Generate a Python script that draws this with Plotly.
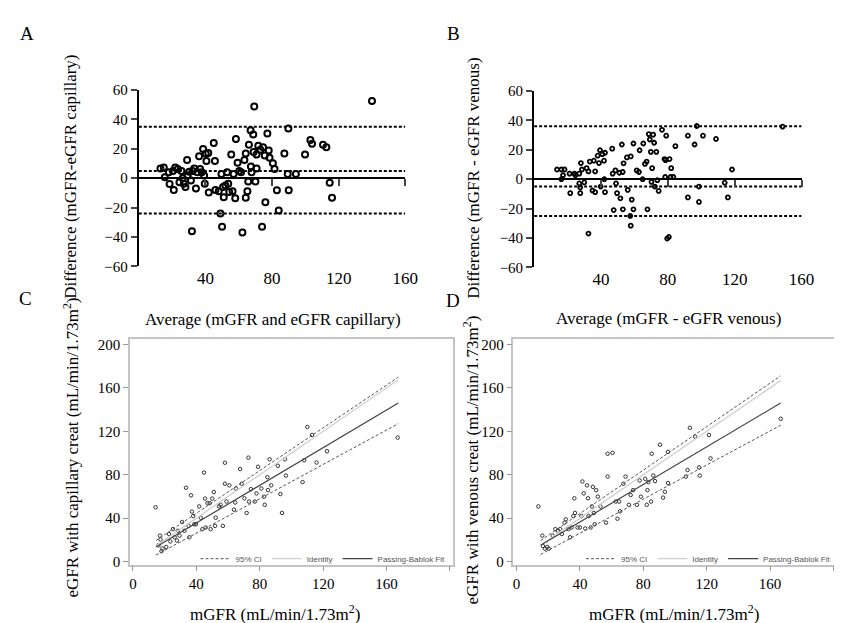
import plotly.graph_objects as go

# ---- data ----
# A: Bland-Altman, capillary
a_avg = [13, 15, 15.6, 18, 18.5, 20.5, 21, 21.9, 23.4, 24.4, 25.6, 26.4, 27, 28, 29, 29.3, 30.3,
         31.3, 31.9, 32.3, 33.3, 34.3, 35.2, 36.2, 36.8, 37.8, 38.6, 39.2, 39.6, 40.2, 40.6, 41.7,
         42, 45, 45.7, 46, 48, 49, 49.6, 50, 50.6, 51, 52, 53, 53.7, 54.3, 55.5, 56.3, 56.9, 57.9,
         58.3, 59.3, 60.3, 61.4, 62.2, 63.4, 64.2, 64.2, 65.2, 65.7, 66.1, 67.1, 67.3, 67.7, 68.7,
         68.9, 69.3, 70, 70.7, 70.7, 71.7, 73, 74, 74.6, 75.6, 76, 77.2, 78, 78.5, 80.5, 81.5, 82.9,
         84, 87.4, 89.8, 89.4, 90, 94.3, 99.8, 103, 104, 110.6, 112.6, 114.6, 116, 140]
a_diff = [6.6, 7.3, 0.7, 4, -4, 4.9, -8, 7.3, 6.2, -2.7, 4.9, 0, -3.8, -6, 12.4, 1.8, 4.4,
          -1.5, -36, 5, 6.6, -7, 4, 15, 6.2, 4, 19.9, 1.8, -3.8, 16.6, 11.7, 17.2,
          -9.7, 23.9, 11.7, -8, -8.8, -24, 2.9, -33, -6, -13, -4.9, 4, -3.8, -9.3, 16.1, -8.8, 2.9, -13.7,
          26.7, 10.6, 5, 4, -37, 12.4, 16.8, -13.3, -8.8, -2.2, 22.8, 32.7, 8, 4, 29.8,
          17.9, 48.8, -2.2, 16.1, 6.6, 22.1, 19.4, -33, 21, 15.5, -16.4, 30.5, 18.8, 13.9, 10.2, 6.2, -8.2,
          -22, 16.8, 33.8, 2.9, -8.2, 2.9, 16.1, 26, 23.4, 22.8, 21, -3.1, -13.3, 52.6]
a_loa = [35, 5, -24]

# B: Bland-Altman, venous
b_avg = [13.7, 16.3, 17.3, 16.3, 18.2, 21.2, 21.6, 24.1, 24.7, 27, 28, 28.6, 27, 27.6, 27.6, 30,
         31.4, 32.5, 32.5, 33.3, 34.9, 35.7, 36.5, 36.5, 38, 38.8, 39.4, 39.8, 40.8, 41.8, 42.4, 42,
         42.4, 46.7, 47, 47.6, 48.6, 49, 49.6, 51, 51.6, 52.5, 53, 53.1, 53.5, 55.5, 56, 57.5, 57.8,
         57.8, 58.4, 59.4, 59.4, 61.4, 62.7, 63.1, 64.9, 65.3, 66.3, 67.3, 67.8, 68.6, 69.2, 69.8,
         70.2, 70.6, 71.2, 71.8, 72.2, 73.1, 73.7, 74.5, 76.5, 78, 78.4, 78.6, 79, 79.6, 80.6, 81,
         81.6, 82, 83.3, 84.5, 92, 92, 96, 97.3, 98.6, 98.6, 101, 108.8, 114, 115.9, 118.4, 148.6]
b_diff = [6.6, 6.6, 2.7, 0, 6.6, 3.8, -9.5, 3.8, 2.7, 3.8, 11, 6.6, -2.9, -5.7, -9.5, -2.2,
          7.5, 5.3, -37, 12, -7.7, 12.6, 5.3, -8.8, 16, 11, 19.7, -5, 17, 12.6, 18, 0,
          -8.8, 20.8, 3.8, -21, 6, -2.9, -9.5, 4.4, -13, 23.6, 4.9, -20.5, 10.8, 14.8, -7.3, -25, -31.6,
          15.5, -13.9, 24.3, -20.5, 6, 4.9, 19.7, 0, 24.3, 10.4, 12, -20.5, 30.7, 27, 18.6,
          -1.8, 7.5, 30.3, 24.8, -5, 18.6, -0.7, -8, 33.6, 13.7, 1.5, 13, 29.6, -40.4, -39.3, 13.7,
          1.5, 7.5, 1.5, 22.5, 29.6, -12.4, 23.6, 36.2, -5, -15.5, 29.6, 27.4, -2.4, -12.4, 6.6, 35.8]
b_loa = [36, -5, -25]
loa_x = [0, 160]

# C: Passing-Bablok, capillary
c_mgfr = [14.3, 17, 17.4, 16.1, 18.6, 18, 21, 22.7, 23.6, 25.2, 26.3, 27.7, 28.3, 29.4, 31, 32.5,
          33.5, 35.1, 35.6, 36.6, 37.2, 38, 38.7, 39.7, 41.8, 42.8, 43.8, 44.8, 45.5, 45.9, 47, 48.4,
          49, 50, 51, 51.8, 52.2, 54.3, 55.3, 56.7, 58, 58, 59, 60.8, 63.7, 64.5, 64.9, 67.6, 68.6,
          70.3, 71.7, 72.8, 73.2, 74.4, 76.9, 77.9, 78.9, 81, 82.7, 83.1, 84.8, 85.2, 86.2, 87.2,
          91.4, 93, 94, 95.9, 96.5, 107, 108, 110, 113, 115.8, 122.4, 167]
c_egfr = [50, 23.9, 20.3, 15, 12, 9.6, 13.5, 25.4, 18.5, 29.9, 22.4, 19.4, 28.4, 23.9, 36.5, 28.4,
          68, 32.9, 22.4, 61, 46, 41.9, 34.4, 34.4, 50.8, 40.4, 29.9, 82, 58, 31.4, 53.8, 53.8,
          29.9, 58, 64, 32.9, 40.4, 50.8, 52.3, 32.9, 91, 71.7, 55.3, 70.2, 47.8, 54.4, 67.3, 85.2, 71.7,
          58.3, 44.8, 95.7, 55.3, 66.7, 55.3, 62.8, 87.3, 67.3, 59.8, 52.3, 77.7, 65.8, 94.2, 70.2,
          88.2, 62.2, 44.8, 94.2, 79.2, 73.2, 93.3, 124, 116.6, 91.2, 101.6, 114.2]
c_fit_x = [14.5, 167.4]
c_fit_y = [13.5, 146]
c_ciu_y = [19.4, 169.8]
c_cil_y = [6, 127]
c_id = [14.5, 167.4]

# D: Passing-Bablok, venous
d_mgfr = [13.8, 16.3, 16.7, 17.9, 19.4, 20.4, 22.9, 24.5, 26.2, 27.6, 28.6, 30.3, 31.1, 32.8, 33.8,
          34.8, 35.9, 36.5, 36.9, 38.5, 40, 41, 41.6, 42.4, 43.4, 44.5, 45.1, 45.5, 46.8, 47.6, 48.2,
          48.8, 49.3, 50.3, 51.3, 53, 56.5, 57.5, 57.5, 60.6, 62.6, 63.7, 64.7, 65.3, 67.4, 68.8,
          70.9, 72, 73.6, 76, 77.7, 78.5, 81.2, 82.2, 82.6, 83.2, 84.9, 85.3, 86.3, 87.4, 90.5, 92.5,
          93.6, 95.6, 95.6, 106.9, 107.9, 109.4, 112.7, 115.2, 115.6, 121.4, 122.4, 166.7]
d_egfr = [50.8, 23.9, 14.3, 12, 13.5, 12, 23.9, 29.9, 28.4, 29.9, 25.4, 35.9, 38.9, 29.9, 22.4,
          31.4, 41.9, 58.3, 44.8, 31.4, 31.4, 41.9, 73.8, 62.8, 30.5, 70.2, 58.3, 41.9, 31.4, 50.8, 68.8,
          44.8, 34.4, 65.8, 59.8, 50.8, 35.9, 99.3, 78.3, 100.1, 55.3, 39.5, 55.3, 46.3, 71.7, 78.3,
          52.3, 61.3, 65.8, 52.3, 74.7, 59.8, 76.2, 52.3, 65.8, 73.2, 55.3, 99.3, 79.2, 74.1, 107.6, 58.9,
          64.3, 101, 72.3, 78.3, 84.3, 123.2, 115.1, 86.7, 79.2, 116.6, 95, 131.5]
d_fit_x = [15.2, 166.7]
d_fit_y = [15, 146]
d_ciu_y = [19.4, 171]
d_cil_y = [6.6, 125.6]
d_id = [15.2, 166.7]

W, H = 842, 623
SERIF = "Liberation Serif"
SANS = "Liberation Sans"


def px(x):
    return x / W


def py(y):
    return 1 - y / H


fig = go.Figure()

# ---- A and B: Bland-Altman ----
for avg, diff, loa, xa, ya, xz, msize, mwidth in [
    (a_avg, a_diff, a_loa, "x", "y", "x5", 6, 2),
    (b_avg, b_diff, b_loa, "x2", "y2", "x6", 4, 1.8),
]:
    for v in loa:
        fig.add_trace(go.Scatter(x=loa_x, y=[v, v], mode="lines", xaxis=xz, yaxis=ya,
                                 line=dict(color="black", width=2, dash="3px,2px"),
                                 showlegend=False, hoverinfo="skip"))
    fig.add_trace(go.Scatter(x=avg, y=diff, mode="markers", xaxis=xa, yaxis=ya,
                             marker=dict(symbol="circle-open", size=msize, color="black",
                                         line=dict(width=mwidth)),
                             showlegend=False))

# ---- C and D: Passing-Bablok ----
for mg, eg, fx, fy, cu, cl, ide, xa, ya, lg in [
    (c_mgfr, c_egfr, c_fit_x, c_fit_y, c_ciu_y, c_cil_y, c_id, "x3", "y3", "legend"),
    (d_mgfr, d_egfr, d_fit_x, d_fit_y, d_ciu_y, d_cil_y, d_id, "x4", "y4", "legend2"),
]:
    fig.add_trace(go.Scatter(x=mg, y=eg, mode="markers", xaxis=xa, yaxis=ya,
                             marker=dict(symbol="circle-open", size=3.5, color="#333",
                                         line=dict(width=1)),
                             showlegend=False))
    fig.add_trace(go.Scatter(x=fx, y=cu, mode="lines", xaxis=xa, yaxis=ya, name="95% CI",
                             legend=lg, legendgroup=lg + "ci",
                             line=dict(color="#555", width=1, dash="3px,2px")))
    fig.add_trace(go.Scatter(x=fx, y=cl, mode="lines", xaxis=xa, yaxis=ya, name="95% CI",
                             legend=lg, legendgroup=lg + "ci", showlegend=False,
                             line=dict(color="#555", width=1, dash="3px,2px")))
    fig.add_trace(go.Scatter(x=ide, y=ide, mode="lines", xaxis=xa, yaxis=ya, name="Identity",
                             legend=lg, line=dict(color="#cfcfcf", width=1.3)))
    fig.add_trace(go.Scatter(x=fx, y=fy, mode="lines", xaxis=xa, yaxis=ya,
                             name="Passing-Bablok Fit", legend=lg,
                             line=dict(color="#444", width=1.2)))


def tf(size):
    return dict(family=SERIF, size=size, color="black")


dom_a = dict(x=[px(132), px(403)], y=[py(257), py(76)])
dom_b = dict(x=[px(534), px(806)], y=[py(258), py(77)])
dom_c = dict(x=[px(123), px(452)], y=[py(563), py(332)])
dom_d = dict(x=[px(513), px(842)], y=[py(563), py(332)])

ba_x = dict(range=[0, 160], tickvals=[40, 80, 120, 160], showline=False, ticks="",
            showgrid=False, zeroline=False, tickfont=tf(17))
ba_y = dict(range=[-60, 60], tickvals=[-60, -40, -20, 0, 20, 40, 60], showline=True,
            linewidth=2, linecolor="black", ticks="outside", ticklen=6, tickwidth=2,
            showgrid=False, zeroline=False, tickfont=tf(15))
ba_zero = dict(range=[0, 160], tickvals=[40, 80, 120, 160], showline=True, linewidth=2,
               linecolor="black", ticks="outside", ticklen=7, tickwidth=2,
               showticklabels=False, showgrid=False, zeroline=False, anchor="free")

pb_common = dict(showline=True, mirror=True, linecolor="#c4c4c4", linewidth=1.5,
                 ticks="outside", ticklen=5, tickcolor="#999", showgrid=False,
                 zeroline=False, tickfont=tf(15))
pb_x = dict(range=[-1.9, 202.2], tickvals=[0, 40, 80, 120, 160],
            minor=dict(tickvals=[200], ticks="outside", ticklen=5, tickcolor="#999",
                       showgrid=False), **pb_common)
pb_y = dict(range=[-2.7, 204.5], tickvals=[0, 40, 80, 120, 160, 200], **pb_common)

legend_style = dict(orientation="h", y=py(557), yanchor="middle", xanchor="right",
                    bgcolor="rgba(0,0,0,0)", font=dict(family=SANS, size=8, color="#555"),
                    itemwidth=30, tracegroupgap=0)

fig.update_layout(
    width=W, height=H, margin=dict(l=0, r=0, t=0, b=0),
    paper_bgcolor="white", plot_bgcolor="white",
    font=dict(family=SERIF, color="black"),
    xaxis=dict(domain=dom_a["x"], anchor="y", **ba_x),
    yaxis=dict(domain=dom_a["y"], anchor="x", **ba_y),
    xaxis5=dict(overlaying="x", position=sum(dom_a["y"]) / 2, **ba_zero),
    xaxis2=dict(domain=dom_b["x"], anchor="y2", **ba_x),
    yaxis2=dict(domain=dom_b["y"], anchor="x2", **ba_y),
    xaxis6=dict(overlaying="x2", position=sum(dom_b["y"]) / 2, **ba_zero),
    xaxis3=dict(domain=dom_c["x"], anchor="y3", **pb_x),
    yaxis3=dict(domain=dom_c["y"], anchor="x3", **pb_y),
    xaxis4=dict(domain=dom_d["x"], anchor="y4", **pb_x),
    yaxis4=dict(domain=dom_d["y"], anchor="x4", **pb_y),
    legend=dict(x=px(449), **legend_style),
    legend2=dict(x=px(841), **legend_style),
)

titles = [
    ("A", 18, 18, 0, 19),
    ("B", 452, 18, 0, 19),
    ("C", 17, 290, 0, 19),
    ("D", 452, 292, 0, 19),
    ("Difference (mGFR-eGFR capillary)", 63, 165, -90, 17),
    ("Average (mGFR and eGFR capillary)", 268, 312, 0, 17),
    ("Difference (mGFR - eGFR venous)", 473, 167, -90, 17),
    ("Average (mGFR - eGFR venous)", 671, 310, 0, 17),
    ("eGFR with capillary creat (mL/min/1.73m<sup>2</sup>)", 63, 443, -90, 17),
    ("mGFR (mL/min/1.73m<sup>2</sup>)", 271, 613, 0, 17),
    ("eGFR with venous creat (mL/min/1.73m<sup>2</sup>)", 470, 456, -90, 17),
    ("mGFR (mL/min/1.73m<sup>2</sup>)", 676, 613, 0, 17),
]
for text, x, y, ang, size in titles:
    fig.add_annotation(text=text, x=px(x), y=py(y), xref="paper", yref="paper",
                       xanchor="center", yanchor="middle", textangle=ang, showarrow=False,
                       font=tf(size))

fig.write_html("out.html")
